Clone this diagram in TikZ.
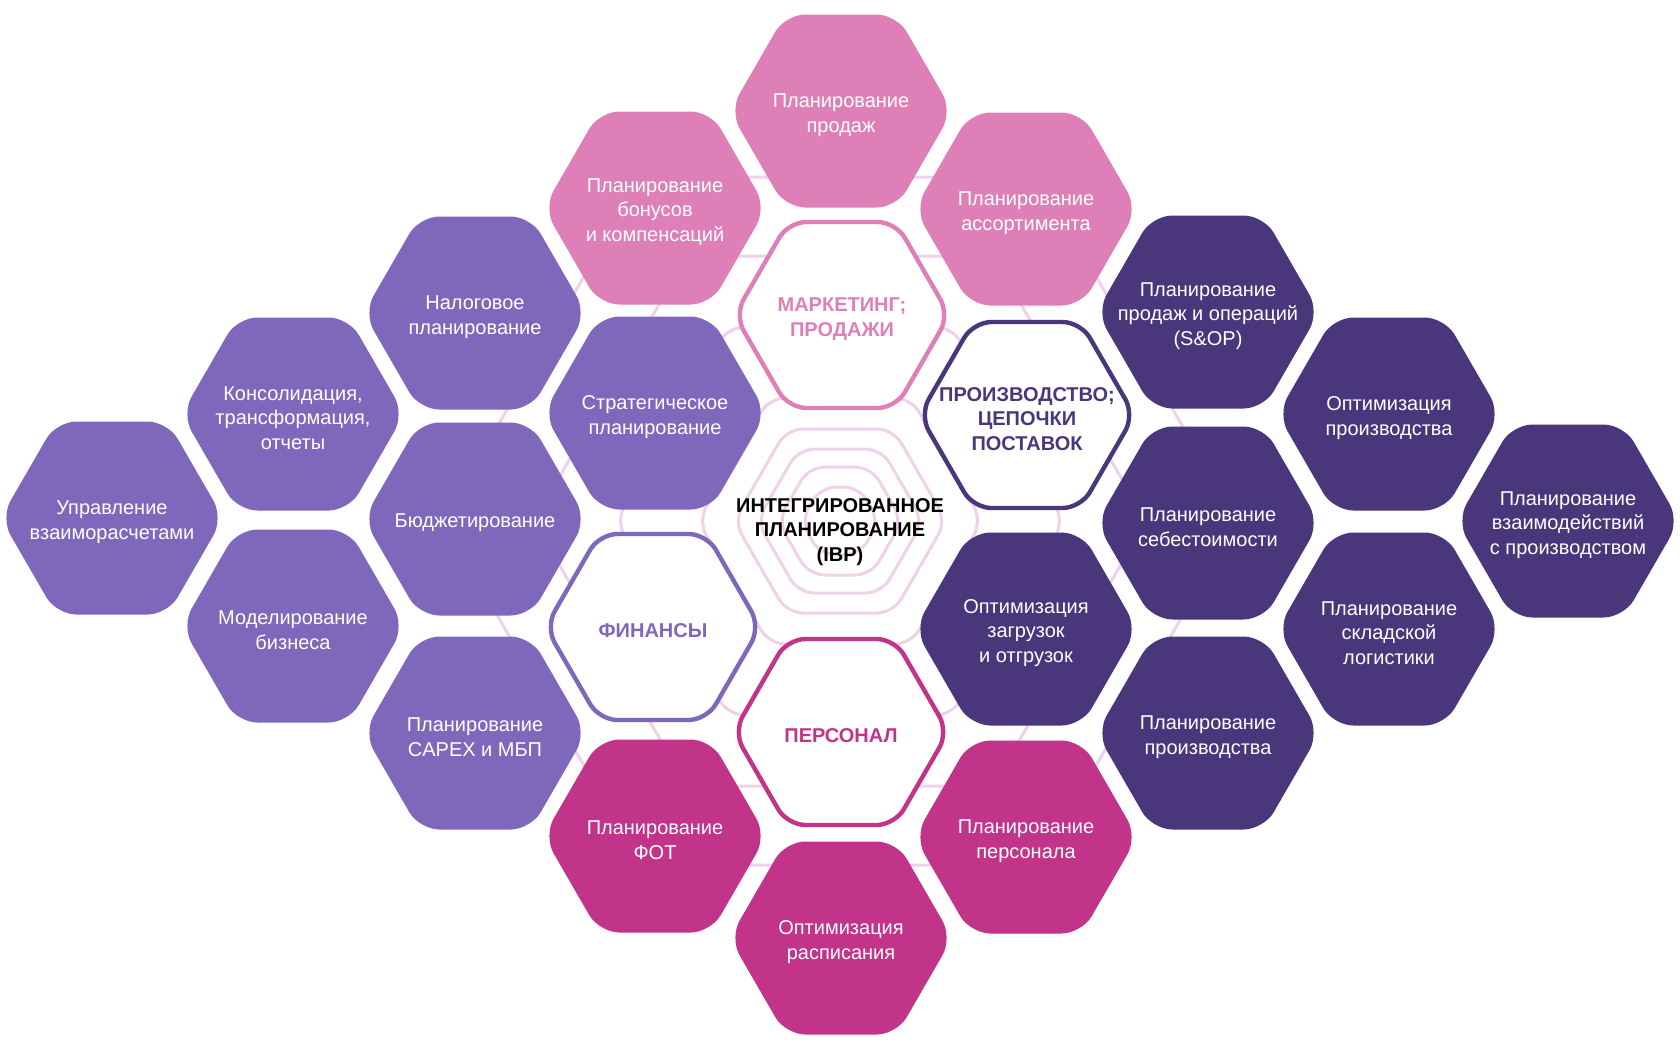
\documentclass[tikz,border=0pt]{standalone}
\usepackage{fontspec}
\setmainfont{Liberation Sans}
\definecolor{cpink}{HTML}{DE80B7}
\definecolor{clav}{HTML}{7F68BB}
\definecolor{cdark}{HTML}{4A367B}
\definecolor{cmag}{HTML}{C2338A}
\definecolor{cring}{HTML}{EFD2EA}
\newcommand\hxpath[3]{({#1-#3/0.866},#2) -- ({#1-#3/1.732},{#2-#3}) -- ({#1+#3/1.732},{#2-#3})
    -- ({#1+#3/0.866},#2) -- ({#1+#3/1.732},{#2+#3}) -- ({#1-#3/1.732},{#2+#3}) -- cycle}
% name, x, y, colour, text
\newcommand\hxtile[5]{%
  \fill[#4, rounded corners=10pt] \hxpath{#2}{#3}{96.5};
  \node[tiletext] (#1) at (#2,#3) {#5};}
\newcommand\hxframe[5]{%
  \draw[#4, fill=white, line width=2.2pt, rounded corners=9pt] \hxpath{#2}{#3}{93};
  \node[frametext, text=#4] (#1) at (#2,#3) {#5};}
\begin{document}
\begin{tikzpicture}[x=0.5pt,y=-0.5pt,
  tiletext/.style={align=center, inner sep=0pt, yshift=-2pt, text=white, font=\fontsize{10pt}{12.3pt}\selectfont},
  frametext/.style={align=center, inner sep=0pt, yshift=-2pt, font=\fontsize{10pt}{12.3pt}\selectfont\bfseries},
  ring/.style={draw=cring, line width=1.5pt, rounded corners=8pt}
]
\fill[white] (0,0) rectangle (1680,1050);
\useasboundingbox (0,0) rectangle (1680,1050);
% background rings
\foreach \b in {34,54,72,92,123,194,265,344}{
  \draw[ring] \hxpath{840}{521}{\b};
}
% marketing / sales
\hxtile{sales}{841}{111}{cpink}{Планирование\\продаж}
\hxtile{bonus}{655}{208}{cpink}{Планирование\\бонусов\\и компенсаций}
\hxtile{assort}{1026}{209}{cpink}{Планирование\\ассортимента}
\hxframe{mkt}{842}{315}{cpink}{МАРКЕТИНГ;\\ПРОДАЖИ}
% finance
\hxtile{tax}{475}{313}{clav}{Налоговое\\планирование}
\hxtile{strat}{655}{413}{clav}{Стратегическое\\планирование}
\hxtile{cons}{293}{414}{clav}{Консолидация,\\трансформация,\\отчеты}
\hxtile{settle}{112}{518}{clav}{Управление\\взаиморасчетами}
\hxtile{budget}{475}{519}{clav}{Бюджетирование}
\hxtile{model}{293}{626}{clav}{Моделирование\\бизнеса}
\hxframe{fin}{653}{627}{clav}{ФИНАНСЫ}
\hxtile{capex}{475}{733}{clav}{Планирование\\CAPEX и МБП}
% production
\hxframe{prod}{1027}{415}{cdark}{ПРОИЗВОДСТВО;\\ЦЕПОЧКИ\\ПОСТАВОК}
\hxtile{sop}{1208}{312}{cdark}{Планирование\\продаж и операций\\(S\&OP)}
\hxtile{optprod}{1389}{414}{cdark}{Оптимизация\\производства}
\hxtile{cost}{1208}{523}{cdark}{Планирование\\себестоимости}
\hxtile{interact}{1568}{521}{cdark}{Планирование\\взаимодействий\\с производством}
\hxtile{load}{1026}{629}{cdark}{Оптимизация\\загрузок\\и отгрузок}
\hxtile{wh}{1389}{629}{cdark}{Планирование\\складской\\логистики}
\hxtile{prodplan}{1208}{733}{cdark}{Планирование\\производства}
% personnel
\hxframe{pers}{841}{732}{cmag}{ПЕРСОНАЛ}
\hxtile{fot}{655}{836}{cmag}{Планирование\\ФОТ}
\hxtile{staff}{1026}{837}{cmag}{Планирование\\персонала}
\hxtile{sched}{841}{938}{cmag}{Оптимизация\\расписания}
% centre
\node[frametext, text=black] (ibp) at (840,528) {ИНТЕГРИРОВАННОЕ\\ПЛАНИРОВАНИЕ\\(IBP)};
\end{tikzpicture}
\end{document}
